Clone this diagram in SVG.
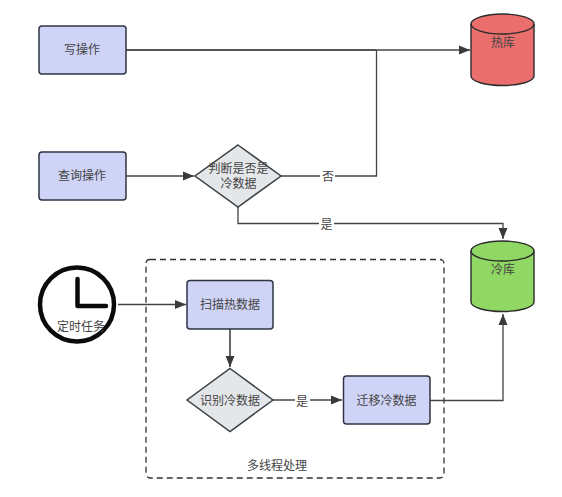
<svg xmlns="http://www.w3.org/2000/svg" width="562" height="497" viewBox="0 0 562 497">
<style>
text{font-family:"Liberation Sans","Noto Sans CJK SC",sans-serif;font-size:12px;fill:#444;text-anchor:middle;dominant-baseline:central}
.box{fill:#cfd4f7;stroke:#2f3444;stroke-width:1.5}
.dia{fill:#e4e7ea;stroke:#3c4043;stroke-width:1.5}
.line{fill:none;stroke:#444;stroke-width:1.3}
.thick{fill:none;stroke:#555;stroke-width:1.8}
.db{stroke:#2b2b2b;stroke-width:1.4}
.lbl{fill:#fff;stroke:none}
</style>
<defs>
<marker id="arrow" markerUnits="userSpaceOnUse" markerWidth="12" markerHeight="10" refX="11" refY="5" orient="auto"><path d="M0,0.5L11,5L0,9.5Z" fill="#3a3a3a"/></marker>
</defs>
<rect width="562" height="497" fill="#fff"/>
<g id="group-multithread">
<rect x="146" y="259.500" width="298" height="218.500" rx="4" fill="none" stroke="#333" stroke-width="1.3" stroke-dasharray="6 4"/>
<text x="277" y="466">多线程处理</text>
</g>
<g id="connectors">
<path class="thick" d="M126,50H376" />
<path class="line" d="M376,50H470" marker-end="url(#arrow)" stroke-width="1.5"/>
<path class="line" d="M126,176H194" marker-end="url(#arrow)"/>
<path class="line" d="M281,176H376.500V50"/>
<path class="line" d="M238,207V223.500H503V239" marker-end="url(#arrow)"/>
<path class="line" d="M118,304.500H186" marker-end="url(#arrow)"/>
<path class="thick" d="M230,329V367" marker-end="url(#arrow)"/>
<path class="line" d="M273,400H342" marker-end="url(#arrow)"/>
<path class="line" d="M430,400.500H503V314" marker-end="url(#arrow)"/>
<rect class="lbl" x="320" y="168" width="15" height="16"/>
<text x="328" y="176.500">否</text>
<rect class="lbl" x="319" y="216" width="15" height="16"/>
<text x="326.500" y="225">是</text>
<rect class="lbl" x="295" y="392" width="15" height="16"/>
<text x="302" y="401.500">是</text>
</g>
<g id="node-write">
<rect class="box" x="39" y="26" width="87" height="48" rx="3"/>
<text x="82" y="50">写操作</text>
</g>
<g id="node-query">
<rect class="box" x="39" y="152" width="87" height="48" rx="3"/>
<text x="82" y="176">查询操作</text>
</g>
<g id="node-judge">
<polygon class="dia" points="238,145 281,176 238,207 195,176"/>
<text x="238.500" y="169">判断是否是</text>
<text x="238.500" y="184">冷数据</text>
</g>
<g id="node-hot">
<path class="db" fill="#ea6f6c" d="M471,24V76A31.500,9.500 0 0 0 534,76V24A31.500,10 0 0 0 471,24Z"/>
<path class="db" fill="none" d="M471,24A31.500,10 0 0 0 534,24"/>
<text x="503" y="42.500" fill="#333">热库</text>
</g>
<g id="node-cold">
<path class="db" fill="#90d764" d="M471,251V302A31.500,9.500 0 0 0 534,302V251A31.500,10 0 0 0 471,251Z"/>
<path class="db" fill="none" d="M471,251A31.500,10 0 0 0 534,251"/>
<text x="503" y="270">冷库</text>
</g>
<g id="node-timer">
<circle cx="77" cy="304.500" r="37" fill="#fff" stroke="#0a0a0a" stroke-width="4.500"/>
<path d="M77.500,279V306H106" fill="none" stroke="#0a0a0a" stroke-width="4.500" stroke-linecap="round" stroke-linejoin="round"/>
<text x="81" y="327">定时任务</text>
</g>
<g id="node-scan">
<rect class="box" x="187" y="280.500" width="86" height="48.500" rx="3"/>
<text x="230" y="305">扫描热数据</text>
</g>
<g id="node-identify">
<polygon class="dia" points="230,368.500 273,400 230,431.500 187,400"/>
<text x="230" y="401">识别冷数据</text>
</g>
<g id="node-migrate">
<rect class="box" x="343.500" y="376" width="86.500" height="48" rx="3"/>
<text x="386.500" y="401">迁移冷数据</text>
</g>
</svg>
